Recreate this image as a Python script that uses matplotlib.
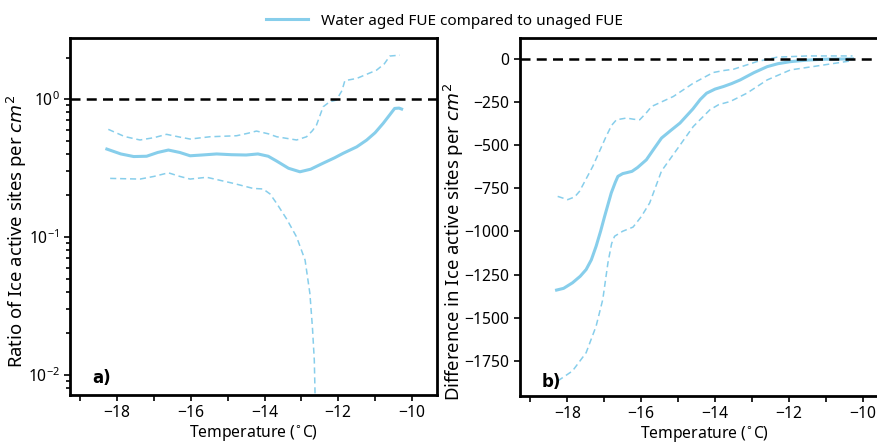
import numpy as np
import matplotlib
matplotlib.use('Agg')
import matplotlib.pyplot as plt
from matplotlib.ticker import MultipleLocator, LogLocator

plt.rcParams['font.family'] = ['Noto Sans', 'DejaVu Sans']
plt.rcParams['mathtext.fontset'] = 'dejavusans'
plt.rcParams['font.size'] = 11.3

# ratio of ice active sites, water aged / unaged
t_ratio = [-18.28, -17.9, -17.55, -17.2, -16.9, -16.61, -16.3, -16.02, -15.7, -15.30,
           -14.9, -14.5, -14.18, -13.9, -13.67, -13.35, -13.04, -12.75, -12.42, -12.1,
           -11.87, -11.5, -11.23, -11.0, -10.78, -10.6, -10.47, -10.35, -10.28]
ratio = [0.434, 0.400, 0.383, 0.385, 0.410, 0.427, 0.410, 0.388, 0.393, 0.400,
         0.395, 0.393, 0.400, 0.385, 0.355, 0.315, 0.297, 0.310, 0.342, 0.375,
         0.404, 0.450, 0.504, 0.570, 0.667, 0.770, 0.855, 0.860, 0.846]

t_ratio_hi = [-18.24, -17.8, -17.38, -17.0, -16.66, -16.3, -16.02, -15.48, -14.76, -14.45,
              -14.22, -13.9, -13.67, -13.13, -12.86, -12.7, -12.59, -12.41, -12.23, -12.05,
              -11.9, -11.82, -11.50, -10.96, -10.75, -10.60, -10.33]
ratio_hi = [0.603, 0.535, 0.505, 0.525, 0.555, 0.530, 0.513, 0.533, 0.542, 0.565,
            0.586, 0.560, 0.533, 0.505, 0.533, 0.590, 0.648, 0.879, 0.956, 0.983,
            1.15, 1.36, 1.41, 1.62, 1.80, 2.05, 2.08]

t_ratio_lo = [-18.19, -17.38, -17.0, -16.61, -16.3, -16.02, -15.57, -14.85, -14.31, -14.04,
              -13.85, -13.67, -13.4, -13.13, -12.90, -12.77, -12.70, -12.65, -12.63, -12.62]
ratio_lo = [0.266, 0.263, 0.275, 0.292, 0.275, 0.263, 0.271, 0.245, 0.225, 0.223,
            0.205, 0.175, 0.135, 0.100, 0.068, 0.039, 0.022, 0.0128, 0.0074, 0.004]

# difference in ice active sites, water aged - unaged
t_diff = [-18.29, -18.1, -17.86, -17.65, -17.49, -17.35, -17.22, -17.1, -16.99, -16.81,
          -16.7, -16.63, -16.50, -16.40, -16.25, -16.1, -15.86, -15.65, -15.45, -15.2,
          -14.95, -14.6, -14.4, -14.23, -14.0, -13.77, -13.55, -13.32, -12.95, -12.59,
          -12.3, -11.96, -11.5, -11.05, -10.28]
diff = [-1340, -1330, -1298, -1260, -1221, -1165, -1086, -1000, -913, -777,
        -715, -681, -665, -660, -652, -630, -585, -520, -459, -415,
        -372, -290, -235, -199, -175, -160, -143, -122, -80, -45,
        -28, -16, -7, -2, 0]

t_diff_hi = [-18.26, -17.99, -17.8, -17.67, -17.31, -16.95, -16.8, -16.67, -16.40, -16.2,
             -16.04, -15.85, -15.72, -15.13, -14.59, -14.05, -13.75, -13.50, -12.87, -12.32,
             -11.50, -10.28]
diff_hi = [-797, -816, -800, -768, -623, -450, -385, -353, -343, -350,
           -353, -310, -276, -218, -141, -79, -67, -60, -16, 10,
           17, 17]

t_diff_lo = [-18.26, -17.86, -17.49, -17.22, -17.04, -16.90, -16.80, -16.72, -16.50, -16.22,
             -16.0, -15.77, -15.45, -15.04, -14.59, -14.14, -13.9, -13.59, -13.14, -12.59,
             -11.96, -11.05, -10.28]
diff_lo = [-1867, -1809, -1703, -1549, -1395, -1182, -1070, -1028, -999, -975,
           -915, -835, -650, -527, -392, -295, -265, -247, -199, -122,
           -64, -35, -10]

colour = '#87CEEB'
label = 'Water aged FUE compared to unaged FUE'
dash = (0, (4, 2.5))

fig = plt.figure(figsize=(8.77, 4.43), dpi=100)
ax1 = fig.add_axes([70 / 877, 1 - 395 / 443, 367 / 877, 357 / 443])
ax2 = fig.add_axes([520 / 877, 1 - 396 / 443, 368 / 877, 358 / 443])

for ax in (ax1, ax2):
    for s in ax.spines.values():
        s.set_linewidth(2.0)
        s.set_color('black')
    ax.set_xlim(-19.28, -9.32)
    ax.xaxis.set_major_locator(MultipleLocator(2))
    ax.xaxis.set_minor_locator(MultipleLocator(1))
    ax.tick_params(which='both', direction='out', width=1.2, length=4)
    ax.set_xlabel('Temperature ($^{\\circ}$C)', labelpad=1)

# a) ratio
ax1.plot(t_ratio, ratio, color=colour, lw=2.2, label=label)
ax1.plot(t_ratio_hi, ratio_hi, color=colour, lw=1.1, ls=dash)
ax1.plot(t_ratio_lo, ratio_lo, color=colour, lw=1.1, ls=dash)
ax1.axhline(1, color='black', lw=1.8, ls=dash)
ax1.set_yscale('log')
ax1.set_ylim(0.00716, 2.77)
ax1.yaxis.set_major_locator(LogLocator(base=10))
ax1.tick_params(axis='y', which='minor', length=3)
ax1.set_ylabel('Ratio of Ice active sites per $cm^2$', fontsize=13.3)
ax1.yaxis.set_label_coords(-0.112, 0.46)
ax1.text(0.06, 0.035, 'a)', transform=ax1.transAxes, fontweight='bold',
         fontsize=12, family='DejaVu Sans')

# b) difference
ax2.plot(t_diff, diff, color=colour, lw=2.2)
ax2.plot(t_diff_hi, diff_hi, color=colour, lw=1.1, ls=dash)
ax2.plot(t_diff_lo, diff_lo, color=colour, lw=1.1, ls=dash)
ax2.axhline(0, color='black', lw=1.8, ls=dash)
ax2.set_ylim(-1954, 121)
ax2.yaxis.set_major_locator(MultipleLocator(250))
ax2.set_ylabel('Difference in Ice active sites per $cm^2$', fontsize=13.3)
ax2.yaxis.set_label_coords(-0.147, 0.43)
ax2.text(0.06, 0.025, 'b)', transform=ax2.transAxes, fontweight='bold',
         fontsize=12, family='DejaVu Sans')

fig.legend(loc='upper center', bbox_to_anchor=(444 / 877, 1.0), frameon=False,
           handlelength=2.8, fontsize=11)

fig.savefig('out.png', dpi=100)
